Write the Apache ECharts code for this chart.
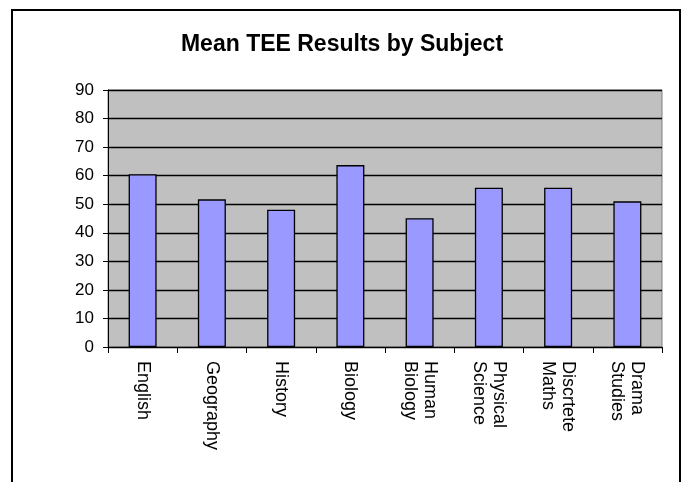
<!DOCTYPE html>
<html>
<head>
<meta charset="utf-8">
<style>
  html, body { margin: 0; padding: 0; background: #ffffff; }
  #chart { width: 684px; height: 482px; }
</style>
<script src="https://cdn.jsdelivr.net/npm/echarts@6/dist/echarts.min.js"></script>
</head>
<body>
<div id="chart"></div>
<script>
// Subjects shown along the category axis
const subjects = [
  'English', 'Geography', 'History', 'Biology',
  'Human\nBiology', 'Physical\nScience', 'Discrtete\nMaths', 'Drama\nStudies'
];
// Mean TEE result per subject
const meanResults = [60.5, 51.7, 48.1, 63.7, 45.1, 55.8, 55.8, 51.0];
// Value axis range
const yMin = 0;
const yMax = 90;
const yStep = 10;

const font = 'Arial, "Liberation Sans", sans-serif';
const chart = echarts.init(document.getElementById('chart'), null, { renderer: 'canvas' });

chart.setOption({
  animation: false,
  backgroundColor: '#ffffff',
  title: {
    text: 'Mean TEE Results by Subject',
    left: 'center',
    top: 28,
    textStyle: { fontFamily: font, fontSize: 23, fontWeight: 'bold', color: '#000000' }
  },
  graphic: [{
    type: 'rect',
    shape: { x: 12, y: 10, width: 668, height: 500 },
    style: { fill: 'none', stroke: '#000000', lineWidth: 2 },
    silent: true,
    z: 100
  }],
  grid: {
    left: 108, right: 22, top: 90, bottom: 135,
    show: true,
    backgroundColor: '#c0c0c0',
    borderColor: '#808080',
    borderWidth: 1
  },
  xAxis: {
    type: 'category',
    data: subjects,
    axisLine: { lineStyle: { color: '#000000', width: 1 } },
    axisTick: { show: true, length: 6, lineStyle: { color: '#000000' } },
    axisLabel: {
      rotate: -90,
      margin: 14,
      interval: 0,
      fontFamily: font,
      fontSize: 18,
      lineHeight: 20,
      color: '#000000'
    },
    splitLine: { show: false }
  },
  yAxis: {
    type: 'value',
    min: yMin,
    max: yMax,
    interval: yStep,
    axisLine: { show: true, lineStyle: { color: '#000000', width: 1 } },
    axisTick: { show: true, length: 5, lineStyle: { color: '#000000' } },
    axisLabel: { margin: 14, fontFamily: font, fontSize: 17, color: '#000000' },
    splitLine: { show: true, lineStyle: { color: '#000000', width: 1.3 } }
  },
  series: [{
    type: 'bar',
    data: meanResults,
    barWidth: 28,
    itemStyle: { color: '#9999ff', borderColor: '#000000', borderWidth: 1.3 }
  }]
});
</script>
</body>
</html>
